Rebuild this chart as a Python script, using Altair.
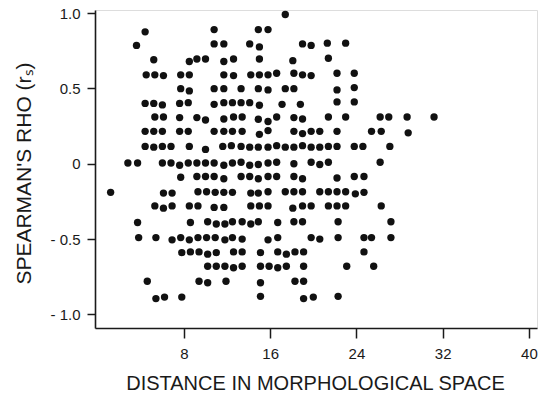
import altair as alt
import pandas as pd

# Scatter points read row by row (distance in morphological space, Spearman's rho)
distance = [
    17.4,
    4.4, 10.8, 14.9, 15.8,
    3.6, 10.8, 11.7, 14.1, 15.0, 19.0, 19.8, 21.3, 23.0,
    5.2, 8.5, 9.2, 10.0, 11.7, 12.6, 15.0, 18.1, 21.4,
    4.5, 5.3, 6.1, 7.7, 8.5, 11.7, 12.6, 14.2, 15.0, 15.8, 16.6, 18.2, 19.0, 19.8, 22.2, 23.8,
    7.7, 8.5, 10.8, 11.7, 13.3, 14.9, 15.8, 17.4, 18.2, 22.2, 23.8,
    4.4, 5.2, 6.0, 7.6, 8.4, 10.8, 11.7, 12.5, 13.3, 14.1, 15.0, 17.1, 18.8, 22.2, 23.8,
    5.3, 6.1, 7.6, 9.2, 10.0, 11.7, 12.6, 13.4, 14.9, 15.8, 16.6, 18.2, 19.0, 21.4, 23.0, 26.2, 27.0, 28.7, 31.2,
    4.4, 5.2, 6.0, 7.6, 8.4, 10.8, 11.7, 12.5, 13.4, 15.0, 15.8, 18.2, 19.0, 19.8, 20.6, 22.2, 25.4, 26.3, 28.8,
    4.4, 5.2, 6.0, 6.8, 8.5, 10.0, 11.6, 12.4, 13.3, 14.1, 14.9, 15.8, 16.6, 17.4, 18.2, 19.0, 19.8, 20.6, 21.4, 22.2, 23.8, 24.6, 27.1,
    2.8, 3.7, 6.0, 6.8, 7.6, 8.4, 9.2, 10.0, 10.8, 11.7, 12.5, 13.3, 14.1, 14.9, 15.8, 16.6, 18.2, 19.8, 20.6, 21.4, 26.2,
    7.7, 9.2, 10.0, 10.8, 11.7, 13.3, 14.1, 14.9, 15.8, 16.6, 18.2, 19.0, 22.2, 23.8, 24.7,
    1.2, 6.1, 6.9, 9.3, 10.1, 10.9, 11.7, 12.5, 14.2, 14.9, 15.8, 17.4, 18.2, 19.0, 20.6, 21.4, 22.2, 23.0, 23.9, 24.7,
    5.3, 6.1, 6.9, 8.5, 9.3, 10.8, 11.7, 14.2, 15.0, 15.8, 18.1, 19.0, 19.8, 21.4, 22.2, 23.0, 26.3,
    3.7, 8.6, 10.2, 11.0, 11.8, 12.5, 13.4, 14.2, 14.9, 16.7, 18.2, 19.0, 22.3, 27.2,
    3.8, 5.4, 6.9, 7.7, 8.5, 9.3, 10.1, 10.9, 11.8, 12.5, 13.4, 15.8, 16.7, 19.8, 20.6, 22.3, 24.7, 25.4, 27.2,
    7.8, 8.6, 9.4, 10.2, 11.0, 12.6, 13.4, 15.1, 16.7, 17.5, 18.3, 19.1, 24.7,
    10.2, 11.0, 11.8, 12.6, 13.4, 15.1, 15.9, 16.7, 17.5, 19.1, 23.1, 25.6,
    4.6, 9.4, 10.2, 11.9, 15.1, 18.3, 19.1,
    5.4, 6.2, 7.8, 15.1, 19.1, 20.0, 22.3,
]

rho = [
    0.99,
    0.875, 0.89, 0.89, 0.89,
    0.785, 0.795, 0.795, 0.795, 0.775, 0.795, 0.785, 0.80, 0.80,
    0.69, 0.678, 0.695, 0.695, 0.678, 0.695, 0.695, 0.684, 0.70,
    0.59, 0.59, 0.585, 0.59, 0.59, 0.59, 0.585, 0.59, 0.59, 0.59, 0.60, 0.60, 0.59, 0.585, 0.60, 0.60,
    0.498, 0.483, 0.498, 0.498, 0.498, 0.498, 0.49, 0.498, 0.498, 0.49, 0.505,
    0.40, 0.40, 0.39, 0.40, 0.405, 0.394, 0.405, 0.405, 0.405, 0.405, 0.388, 0.394, 0.394, 0.41, 0.41,
    0.31, 0.31, 0.306, 0.306, 0.29, 0.297, 0.31, 0.31, 0.295, 0.28, 0.31, 0.306, 0.297, 0.31, 0.31, 0.31, 0.31, 0.31, 0.31,
    0.215, 0.215, 0.215, 0.215, 0.215, 0.215, 0.215, 0.215, 0.215, 0.195, 0.22, 0.215, 0.20, 0.215, 0.215, 0.215, 0.215, 0.215, 0.205,
    0.115, 0.11, 0.115, 0.115, 0.115, 0.095, 0.115, 0.12, 0.115, 0.11, 0.11, 0.11, 0.12, 0.11, 0.11, 0.12, 0.11, 0.11, 0.115, 0.115, 0.115, 0.115, 0.115,
    0.005, 0.005, 0.005, 0.005, -0.01, 0.005, 0.005, 0.005, 0.005, -0.01, 0.005, 0.01, -0.01, -0.005, 0.005, 0.01, 0.0, 0.01, -0.005, 0.01, 0.01,
    -0.09, -0.085, -0.085, -0.085, -0.10, -0.085, -0.085, -0.10, -0.085, -0.085, -0.085, -0.10, -0.095, -0.085, -0.085,
    -0.19, -0.195, -0.195, -0.186, -0.186, -0.19, -0.19, -0.19, -0.195, -0.195, -0.186, -0.186, -0.186, -0.186, -0.186, -0.186, -0.186, -0.186, -0.20, -0.19,
    -0.28, -0.295, -0.28, -0.28, -0.28, -0.29, -0.29, -0.28, -0.28, -0.28, -0.295, -0.28, -0.28, -0.28, -0.28, -0.28, -0.28,
    -0.39, -0.39, -0.385, -0.40, -0.40, -0.385, -0.385, -0.40, -0.385, -0.39, -0.385, -0.385, -0.385, -0.385,
    -0.49, -0.49, -0.505, -0.49, -0.505, -0.49, -0.49, -0.49, -0.505, -0.49, -0.50, -0.505, -0.49, -0.49, -0.50, -0.49, -0.49, -0.49, -0.49,
    -0.59, -0.585, -0.585, -0.60, -0.59, -0.585, -0.585, -0.59, -0.585, -0.60, -0.585, -0.585, -0.585,
    -0.68, -0.68, -0.68, -0.69, -0.68, -0.68, -0.68, -0.69, -0.68, -0.68, -0.68, -0.68,
    -0.78, -0.78, -0.79, -0.78, -0.79, -0.78, -0.78,
    -0.895, -0.885, -0.885, -0.88, -0.895, -0.885, -0.88,
]

x_ticks = [8, 16, 24, 32, 40]
y_ticks = [1.0, 0.5, 0.0, -0.5, -1.0]

df = pd.DataFrame({"distance": distance, "rho": rho})

FONT = "Liberation Sans"
INK = "#1a1a1a"

chart = alt.Chart(df).mark_circle(size=54, color="#111111", opacity=1).encode(
    x=alt.X(
        "distance:Q",
        scale=alt.Scale(domain=[-0.25, 40.75], nice=False, zero=False),
        axis=alt.Axis(
            values=x_ticks,
            title="DISTANCE IN MORPHOLOGICAL SPACE",
            grid=False,
            tickSize=10,
            tickWidth=1.5,
            tickColor=INK,
            domainColor=INK,
            domainWidth=1.6,
            labelFont=FONT,
            labelFontSize=15,
            labelColor=INK,
            labelPadding=8,
            labelFlush=False,
            titleFont=FONT,
            titleFontSize=20,
            titleFontWeight="normal",
            titleColor=INK,
            titleX=220,
            titleY=55,
            titleAlign="center",
            titleBaseline="middle",
        ),
    ),
    y=alt.Y(
        "rho:Q",
        scale=alt.Scale(domain=[-1.09, 1.02], nice=False, zero=False),
        axis=alt.Axis(
            values=y_ticks,
            title="SPEARMAN'S RHO (rₛ)",
            grid=False,
            tickSize=8,
            tickWidth=1.5,
            tickColor=INK,
            domainColor=INK,
            domainWidth=1.6,
            labelFont=FONT,
            labelFontSize=15,
            labelColor=INK,
            labelPadding=7,
            labelFlush=False,
            labelExpr="datum.value == 0 ? '0\u00a0' : (datum.value < 0 ? '- ' : '') + format(abs(datum.value), '.1f')",
            titleFont=FONT,
            titleFontSize=21,
            titleFontWeight="normal",
            titleColor=INK,
            titleAngle=270,
            titleX=-71,
            titleY=163,
            titleAlign="center",
            titleBaseline="middle",
        ),
    ),
).properties(
    width=442,
    height=318,
    autosize=alt.AutoSizeParams(type="none"),
    padding={"left": 95, "top": 10, "right": 1, "bottom": 74},
).configure_view(stroke=None).configure(background="white")

chart.save("out.html", embed_options={"renderer": "svg", "actions": False})
